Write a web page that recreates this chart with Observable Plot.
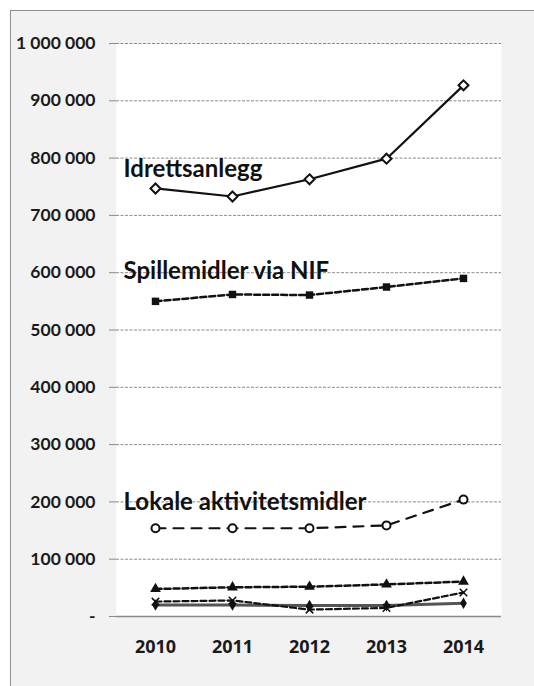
<!DOCTYPE html>
<html>
<head>
<meta charset="utf-8">
<script src="https://cdn.jsdelivr.net/npm/d3@7"></script>
<script src="https://cdn.jsdelivr.net/npm/@observablehq/plot@0.6"></script>
<style>
  html, body { margin: 0; padding: 0; background: #fff; overflow: hidden; }
  #wrap { position: relative; width: 534px; height: 686px; }
  #frame { position: absolute; left: 10px; top: 10px; width: 600px; height: 800px; border: 1px solid #8f8f8f; background: #f2f2f2; }
  #chart { position: absolute; left: 0; top: 0; }
</style>
</head>
<body>
<div id="wrap"><div id="frame"></div><div id="chart"></div></div>
<script>
const years = ["2010", "2011", "2012", "2013", "2014"];
const idrettsanlegg = [747000, 733000, 763000, 799000, 927000];
const spillemidler = [550000, 562000, 561000, 575000, 590000];
const lokale = [154000, 154000, 154000, 159000, 204000];
const serieA = [48000, 51000, 52000, 56000, 61000];
const serieB = [26000, 28000, 12000, 15000, 42000];
const serieC = [20000, 20000, 19000, 19000, 23000];
const yTicks = [0, 100000, 200000, 300000, 400000, 500000, 600000, 700000, 800000, 900000, 1000000];
const labelNames = ["Idrettsanlegg", "Spillemidler via NIF", "Lokale aktivitetsmidler"];
const labelValues = [780000, 603000, 199000];

const rows = (vals, name) => years.map((y, i) => ({year: y, value: vals[i], series: name}));
const dI = rows(idrettsanlegg, "I");
const dS = rows(spillemidler, "S");
const dL = rows(lokale, "L");
const dA = rows(serieA, "A");
const dB = rows(serieB, "B");
const dC = rows(serieC, "C");
const labels = labelNames.map((t, i) => ({text: t, value: labelValues[i]}));

const fmt = d => d === 0 ? "-" : d3.format(",")(d).replace(/,/g, " ");

const chart = Plot.plot({
  width: 534,
  height: 686,
  marginLeft: 116,
  marginRight: 33,
  marginTop: 43,
  marginBottom: 70,
  style: {background: "transparent", fontFamily: "Lato, sans-serif", color: "#1a1a1a"},
  x: {type: "point", domain: years, padding: 0.5, label: null},
  y: {domain: [0, 1000000], label: null},
  marks: [
    Plot.frame({fill: "white", stroke: null}),
    Plot.ruleY(yTicks.filter(d => d > 0), {stroke: "#8a8a8a", strokeWidth: 1, strokeDasharray: "3,1.5"}),
    Plot.axisY({ticks: yTicks, tickFormat: fmt, tickSize: 7, tickPadding: 14, stroke: "#8a8a8a", fontSize: 17.5, fontWeight: "bold"}),
    Plot.axisX({tickSize: 0, tickPadding: 24, fontSize: 18, fontWeight: "bold", fontFamily: "'Open Sans', sans-serif"}),
    Plot.ruleX([0], {x: () => null, frameAnchor: "left", stroke: "#8a8a8a", strokeWidth: 1.5}),
    Plot.ruleY([0], {stroke: "#8a8a8a", strokeWidth: 1.5}),
    Plot.lineY(dC, {x: "year", y: "value", stroke: "#555", strokeWidth: 3}),
    Plot.lineY(dB, {x: "year", y: "value", stroke: "#111", strokeWidth: 2.2, strokeDasharray: "6,3"}),
    Plot.lineY(dA, {x: "year", y: "value", stroke: "#111", strokeWidth: 2.5, strokeDasharray: "6,3"}),
    Plot.dot(dC, {x: "year", y: "value", symbol: "diamond", r: 3.5, fill: "#111"}),
    Plot.dot(dB, {x: "year", y: "value", symbol: "times", r: 3.5, stroke: "#111", strokeWidth: 1.5}),
    Plot.dot(dA, {x: "year", y: "value", symbol: "triangle", r: 4, fill: "#111"}),
    Plot.lineY(dL, {x: "year", y: "value", stroke: "#111", strokeWidth: 2.2, strokeDasharray: "10,8"}),
    Plot.dot(dL, {x: "year", y: "value", symbol: "circle", r: 4, fill: "white", stroke: "#111", strokeWidth: 2}),
    Plot.lineY(dS, {x: "year", y: "value", stroke: "#111", strokeWidth: 2.5, strokeDasharray: "6,3"}),
    Plot.dot(dS, {x: "year", y: "value", symbol: "square", r: 4.2, fill: "#111"}),
    Plot.lineY(dI, {x: "year", y: "value", stroke: "#111", strokeWidth: 2.2}),
    Plot.dot(dI, {x: "year", y: "value", symbol: "diamond2", r: 4.5, fill: "white", stroke: "#111", strokeWidth: 2}),
    Plot.text(labels, {x: () => years[0], y: "value", text: "text", dx: -32, textAnchor: "start", fontSize: 24, fontWeight: "bold", fill: "#111"})
  ]
});
document.getElementById("chart").appendChild(chart);
</script>
</body>
</html>
